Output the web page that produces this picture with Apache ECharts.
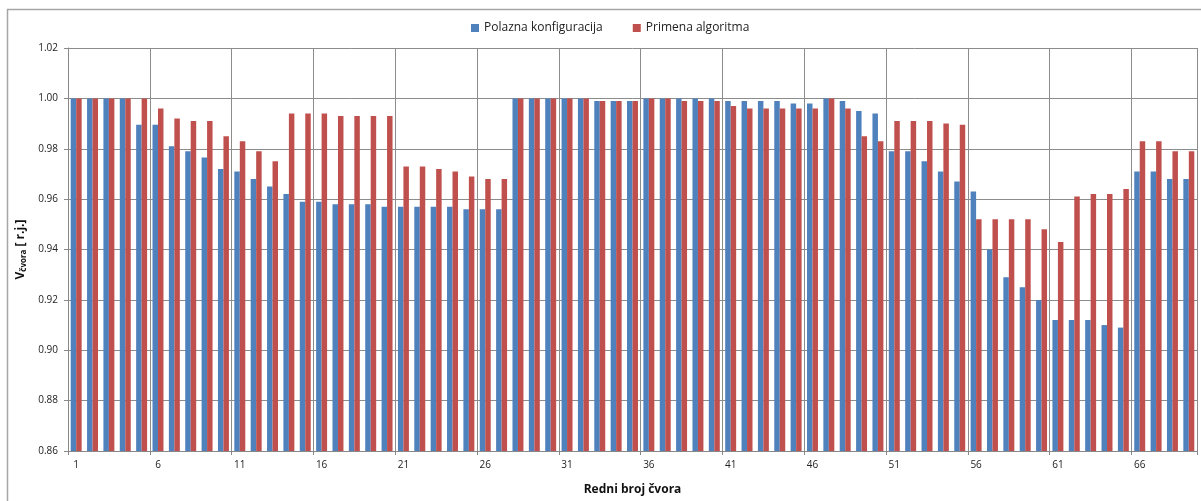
<!DOCTYPE html>
<html>
<head>
<meta charset="utf-8">
<script src="https://cdn.jsdelivr.net/npm/echarts@6/dist/echarts.min.js"></script>
<style>html,body{margin:0;padding:0;background:#fff}#c{width:1201px;height:501px}</style>
</head>
<body>
<div id="c"></div>
<script>
var categories = [];
for (var i = 1; i <= 69; i++) categories.push(String(i));

var polazna = [
  1.000, 1.000, 1.000, 1.000, 0.9895, 0.9895, 0.981, 0.979, 0.9765, 0.972,
  0.971, 0.968, 0.965, 0.962, 0.959, 0.959, 0.958, 0.958, 0.958, 0.957,
  0.957, 0.957, 0.957, 0.957, 0.956, 0.956, 0.956, 1.000, 1.000, 1.000,
  1.000, 1.000, 0.999, 0.999, 0.999, 1.000, 1.000, 1.000, 1.000, 1.000,
  0.999, 0.999, 0.999, 0.999, 0.998, 0.998, 1.000, 0.999, 0.995, 0.994,
  0.979, 0.979, 0.975, 0.971, 0.967, 0.963, 0.940, 0.929, 0.925, 0.920,
  0.912, 0.912, 0.912, 0.910, 0.909, 0.971, 0.971, 0.968, 0.968
];
var primena = [
  1.000, 1.000, 1.000, 1.000, 1.000, 0.996, 0.992, 0.991, 0.991, 0.985,
  0.983, 0.979, 0.975, 0.994, 0.994, 0.994, 0.993, 0.993, 0.993, 0.993,
  0.973, 0.973, 0.972, 0.971, 0.969, 0.968, 0.968, 1.000, 1.000, 1.000,
  1.000, 1.000, 0.999, 0.999, 0.999, 1.000, 1.000, 0.999, 0.999, 0.999,
  0.997, 0.996, 0.996, 0.996, 0.996, 0.996, 1.000, 0.996, 0.985, 0.983,
  0.991, 0.991, 0.991, 0.990, 0.9895, 0.952, 0.952, 0.952, 0.952, 0.948,
  0.943, 0.961, 0.962, 0.962, 0.964, 0.983, 0.983, 0.979, 0.979
];
var seriesNames = ['Polazna konfiguracija', 'Primena algoritma'];

var font = 'Open Sans';
var chart = echarts.init(document.getElementById('c'));
chart.setOption({
  animation: false,
  textStyle: { fontFamily: font },
  graphic: [{
    type: 'rect', shape: { x: 7.5, y: 9.5, width: 1300, height: 600 },
    style: { fill: 'none', stroke: '#a6a6a6', lineWidth: 1.5 }, silent: true, z: -10
  }],
  legend: {
    top: 17, left: 466,
    icon: 'rect', itemWidth: 8, itemHeight: 8, itemGap: 30,
    textStyle: { fontFamily: font, fontSize: 12, color: '#222' },
    data: seriesNames
  },
  grid: { left: 68, right: 4, top: 48, bottom: 47 },
  xAxis: {
    type: 'category',
    data: categories,
    boundaryGap: true,
    name: 'Redni broj čvora',
    nameLocation: 'middle',
    nameGap: 33,
    nameTextStyle: { fontFamily: font, fontWeight: 'bold', fontSize: 12, color: '#111' },
    axisLine: { show: true, lineStyle: { color: '#888', width: 1 } },
    axisTick: { show: true, interval: 4, length: 4, lineStyle: { color: '#888' } },
    axisLabel: { interval: 4, fontSize: 10, color: '#222', margin: 9 },
    splitLine: { show: true, interval: 4, lineStyle: { color: '#8c8c8c', width: 1 } }
  },
  yAxis: {
    type: 'value',
    min: 0.86, max: 1.02, interval: 0.02,
    name: '{v|V}{s|čvora}{v| [ r.j.]}',
    nameLocation: 'middle',
    nameGap: 38,
    nameRotate: 90,
    nameTextStyle: {
      rich: {
        v: { fontFamily: font, fontWeight: 'bold', fontSize: 12, color: '#111' },
        s: { fontFamily: font, fontWeight: 'bold', fontSize: 8, color: '#111', verticalAlign: 'bottom', padding: [6, 0, 0, 0] }
      }
    },
    axisLine: { show: true, lineStyle: { color: '#888', width: 1 } },
    axisTick: { show: true, length: 4, inside: false, lineStyle: { color: '#888' } },
    axisLabel: { fontSize: 10, color: '#222', margin: 10, formatter: function (v) { return v.toFixed(2); } },
    splitLine: { show: true, lineStyle: { color: '#8c8c8c', width: 1 } }
  },
  series: [
    {
      name: seriesNames[0], type: 'bar', data: polazna,
      itemStyle: { color: '#4F81BD' },
      barGap: '0%', barCategoryGap: '33%'
    },
    {
      name: seriesNames[1], type: 'bar', data: primena,
      itemStyle: { color: '#C0504D' },
      barGap: '0%', barCategoryGap: '33%'
    }
  ]
});
</script>
</body>
</html>
